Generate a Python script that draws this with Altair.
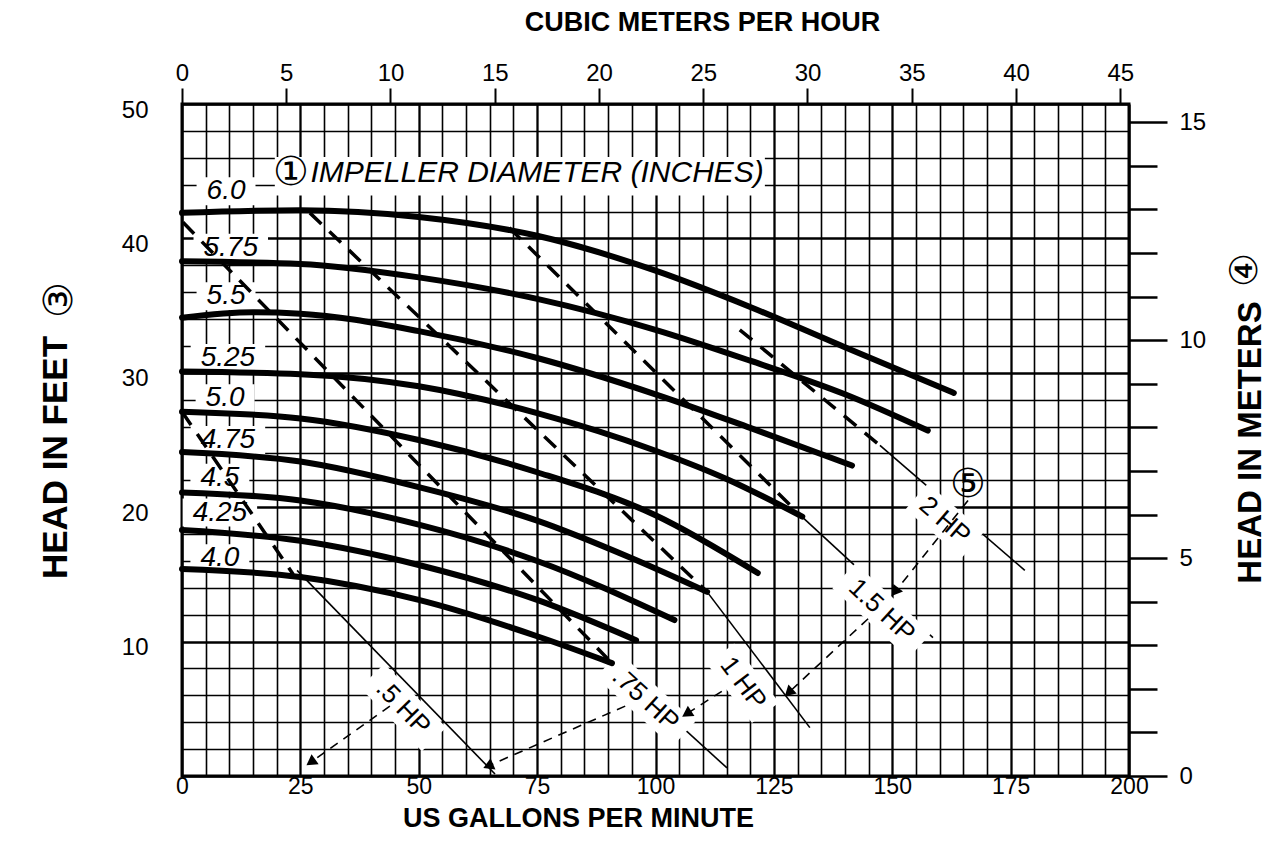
import math
import altair as alt
import pandas as pd

# ---------------- data ----------------
W, H = 947, 672
GPM_MAX = 200
FT_MAX = 50
M3H_MAX = 45.42
M_MAX = 15.42

GRID_GPM = list(range(0, 201, 5))
GRID_FT = list(range(0, 51, 2))
TOP_TICKS = list(range(0, 46, 5))
RIGHT_TICKS = list(range(0, 16))

IMPELLERS = ["6.0", "5.75", "5.5", "5.25", "5.0", "4.75", "4.5", "4.25", "4.0"]

GPM_600 = [0, 25, 50, 75, 100, 120, 140, 163]
FT_600 = [41.9, 42.1, 41.6, 40.2, 37.6, 34.9, 31.9, 28.5]
GPM_575 = [0, 25, 50, 75, 100, 120, 140, 157.5]
FT_575 = [38.3, 38.1, 37.1, 35.5, 33.2, 30.9, 28.4, 25.7]
GPM_550 = [0, 15, 25, 50, 75, 100, 120, 141.5]
FT_550 = [34.1, 34.5, 34.4, 33.1, 31.1, 28.4, 25.9, 23.1]
GPM_525 = [0, 25, 50, 75, 100, 115, 131]
FT_525 = [30.1, 29.9, 29.0, 27.0, 24.2, 22.1, 19.3]
GPM_500 = [0, 25, 50, 75, 100, 121.6]
FT_500 = [27.1, 26.6, 25.0, 22.6, 19.4, 15.1]
GPM_475 = [0, 25, 50, 75, 95, 110.9]
FT_475 = [24.1, 23.4, 21.5, 19.0, 16.2, 13.7]
GPM_450 = [0, 25, 50, 75, 104]
FT_450 = [21.1, 20.5, 18.7, 16.0, 11.6]
GPM_425 = [0, 25, 50, 75, 95.9]
FT_425 = [18.3, 17.5, 15.7, 13.1, 10.1]
GPM_400 = [0, 25, 50, 75, 90.8]
FT_400 = [15.4, 14.8, 13.1, 10.4, 8.4]

LABEL_GPM = [9.3, 10.3, 9.3, 9.7, 9.1, 9.7, 8.0, 8.0, 8.0]
LABEL_FT = [43.5, 39.3, 35.7, 31.1, 28.1, 25.0, 22.2, 19.6, 16.2]

# horsepower limits: thick dashed part (inside the curves) then thin solid part
HP_NAMES = [".5 HP", ".75 HP", "1 HP", "1.5 HP", "2 HP"]
DASH_GPM0 = [0.0, 0.2, 27.0, 69.1, 117.8]
DASH_FT0 = [27.1, 41.2, 41.9, 40.8, 33.2]
DASH_GPM1 = [23.5, 90.8, 110.9, 130.9, 147.4]
DASH_FT1 = [15.0, 8.4, 13.7, 19.3, 24.6]
HP_GPM0 = [24.3, 90.8, 110.9, 130.9, 147.4]
HP_FT0 = [15.3, 8.4, 13.7, 19.3, 24.6]
HP_GPM1 = [66.1, 115.1, 132.6, 158.6, 178.0]
HP_FT1 = [0.15, 0.6, 3.6, 10.3, 15.3]
HP_LAB_GPM = [46.7, 97.9, 118.5, 147.8, 161.1]
HP_LAB_FT = [5.1, 5.7, 6.9, 12.3, 19.0]

# callout arrows (tail -> head)
ARR_GPM0 = [166.0, 144.9, 114.0, 93.6, 43.9]
ARR_FT0 = [20.5, 11.7, 6.3, 5.2, 5.2]
ARR_GPM1 = [150.8, 128.4, 106.9, 65.0, 27.5]
ARR_FT1 = [13.8, 6.3, 4.7, 0.8, 1.1]

NOTE_TEXT = "IMPELLER DIAMETER (INCHES)"
NOTE_GPM = 75.0
NOTE_FT = 44.9
NOTE_BOX_GPM = [19.6, 123.1]
NOTE_BOX_FT = [43.2, 46.05]
CIRCLE_TEXT = ["\u2460", "\u2464"]
CIRCLE_GPM = [23.0, 166.0]
CIRCLE_FT = [44.9, 21.65]

# ---------------- tables ----------------
PXG = W / GPM_MAX
PXF = H / FT_MAX
FONT = "Liberation Sans"

curve_lists = [
    (GPM_600, FT_600), (GPM_575, FT_575), (GPM_550, FT_550), (GPM_525, FT_525),
    (GPM_500, FT_500), (GPM_475, FT_475), (GPM_450, FT_450), (GPM_425, FT_425),
    (GPM_400, FT_400),
]
rows = []
for name, (gs, fs) in zip(IMPELLERS, curve_lists):
    for i, (g, f) in enumerate(zip(gs, fs)):
        rows.append({"imp": name, "o": i, "gpm": g, "ft": f})
curves = pd.DataFrame(rows)

lab = pd.DataFrame({"txt": IMPELLERS, "gpm": LABEL_GPM, "ft": LABEL_FT})
lab_w = [28 * (0.556 * (len(t) - 1) + 0.278) + 20 for t in IMPELLERS]
lab_box = pd.DataFrame({
    "gpm": [g - w / 2 / PXG for g, w in zip(LABEL_GPM, lab_w)],
    "gpm2": [g + w / 2 / PXG for g, w in zip(LABEL_GPM, lab_w)],
    "ft": [f - 14 / PXF for f in LABEL_FT],
    "ft2": [f + 14 / PXF for f in LABEL_FT],
})
note_box = pd.DataFrame({"gpm": [NOTE_BOX_GPM[0]], "gpm2": [NOTE_BOX_GPM[1]],
                         "ft": [NOTE_BOX_FT[0]], "ft2": [NOTE_BOX_FT[1]]})
boxes = pd.concat([lab_box, note_box], ignore_index=True)

dash = pd.DataFrame({"gpm": DASH_GPM0, "ft": DASH_FT0, "gpm2": DASH_GPM1, "ft2": DASH_FT1})
hp = pd.DataFrame({"gpm": HP_GPM0, "ft": HP_FT0, "gpm2": HP_GPM1, "ft2": HP_FT1})

hp_ang = [math.degrees(math.atan2((f0 - f1) * PXF, (g1 - g0) * PXG))
          for g0, f0, g1, f1 in zip(HP_GPM0, HP_FT0, HP_GPM1, HP_FT1)]
hp_lab = pd.DataFrame({"txt": HP_NAMES, "gpm": HP_LAB_GPM, "ft": HP_LAB_FT, "ang": hp_ang})
hp_lab["wpx"] = [26 * 0.56 * len(t) + 16 for t in HP_NAMES]
hp_lab["size"] = hp_lab["wpx"] ** 2
hp_lab["path"] = [
    "M-1,-{h:.3f}L1,-{h:.3f}L1,{h:.3f}L-1,{h:.3f}Z".format(h=17 / (w / 2)) for w in hp_lab["wpx"]
]

arr = pd.DataFrame({"gpm": ARR_GPM0, "ft": ARR_FT0, "gpm2": ARR_GPM1, "ft2": ARR_FT1})
head_ang = [
    (math.degrees(math.atan2((g1 - g0) * PXG, (f1 - f0) * PXF)) + 360) % 360
    for g0, f0, g1, f1 in zip(ARR_GPM0, ARR_FT0, ARR_GPM1, ARR_FT1)
]
heads = pd.DataFrame({"gpm": ARR_GPM1, "ft": ARR_FT1, "ang": head_ang})

note = pd.DataFrame({"txt": [NOTE_TEXT], "gpm": [NOTE_GPM], "ft": [NOTE_FT]})
circles = pd.DataFrame({"txt": CIRCLE_TEXT, "gpm": CIRCLE_GPM, "ft": CIRCLE_FT})

# ---------------- encodings ----------------
xs = alt.Scale(domain=[0, GPM_MAX], nice=False, zero=False)
ys = alt.Scale(domain=[0, FT_MAX], nice=False, zero=False)

x_axis = alt.Axis(
    values=GRID_GPM, grid=True, gridColor="black", gridOpacity=1,
    gridWidth={"condition": {"test": "datum.value % 25 === 0", "value": 2.3}, "value": 1.6},
    labelExpr="datum.value % 25 === 0 ? datum.label : ''",
    ticks=False, domain=False, labelFont=FONT, labelFontSize=23, labelColor="black",
    labelPadding=-1, labelFlush=False, labelOverlap=False,
    title="US GALLONS PER MINUTE", titleFont=FONT, titleFontSize=27, titleFontWeight="bold",
    titleColor="black", titleX=396, titleY=42, titleBaseline="middle",
)
y_axis = alt.Axis(
    values=GRID_FT, grid=True, gridColor="black", gridOpacity=1,
    gridWidth={"condition": {"test": "datum.value % 10 === 0", "value": 2.6}, "value": 1.6},
    labelExpr="datum.value % 10 === 0 && datum.value > 0 ? datum.label : ''",
    ticks=False, domain=False, labelFont=FONT, labelFontSize=24, labelColor="black",
    labelPadding=34, labelOffset=6, labelFlush=False, labelOverlap=False,
    title="HEAD IN FEET", titleFont=FONT, titleFontSize=35, titleFontWeight="bold",
    titleColor="black", titleAngle=270, titleX=-127, titleY=353, titleBaseline="middle",
)

X = alt.X("gpm:Q", scale=xs, axis=x_axis)
Y = alt.Y("ft:Q", scale=ys, axis=y_axis)
X2 = alt.X2("gpm2:Q")
Y2 = alt.Y2("ft2:Q")

box_layer = alt.Chart(boxes).mark_rect(color="white", opacity=1).encode(x=X, x2=X2, y=Y, y2=Y2)

dash_layer = alt.Chart(dash).mark_rule(color="black", strokeWidth=3.5, strokeDash=[16, 11]).encode(
    x=X, y=Y, x2=X2, y2=Y2)

hp_layer = alt.Chart(hp).mark_rule(color="black", strokeWidth=1.6).encode(x=X, y=Y, x2=X2, y2=Y2)

hp_box = alt.Chart(hp_lab).mark_point(filled=True, fill="white", opacity=1, strokeWidth=0).encode(
    x=X, y=Y,
    shape=alt.Shape("path:N", scale=None), size=alt.Size("size:Q", scale=None),
    angle=alt.Angle("ang:Q", scale=None))

curve_layer = alt.Chart(curves).mark_line(color="black", strokeWidth=6, strokeCap="round",
                                          interpolate="monotone").encode(
    x=X, y=Y, detail="imp:N", order="o:Q")

arr_layer = alt.Chart(arr).mark_rule(color="black", strokeWidth=1.6, strokeDash=[9, 7]).encode(
    x=X, y=Y, x2=X2, y2=Y2)

head_layer = alt.Chart(heads).mark_point(shape="triangle", filled=True, color="black", size=150,
                                         opacity=1).encode(
    x=X, y=Y, angle=alt.Angle("ang:Q", scale=None))

lab_text = alt.Chart(lab).mark_text(font=FONT, fontSize=28, fontStyle="italic", color="black").encode(
    x=X, y=Y, text="txt:N")

hp_text = alt.Chart(hp_lab).mark_text(font=FONT, fontSize=26, color="black").encode(
    x=X, y=Y, text="txt:N", angle=alt.Angle("ang:Q", scale=None))

note_text = alt.Chart(note).mark_text(font=FONT, fontSize=30, fontStyle="italic", color="black").encode(
    x=X, y=Y, text="txt:N")

circle_text = alt.Chart(circles).mark_text(font="DejaVu Sans", fontSize=40, color="black").encode(
    x=X, y=Y, text="txt:N")

side_marks = alt.Chart(pd.DataFrame({"txt": ["\u2462"]})).mark_text(
    font="DejaVu Sans", fontSize=40, color="black", angle=270).encode(
    x=alt.value(-122), y=alt.value(196), text="txt:N")
side_marks_r = alt.Chart(pd.DataFrame({"txt": ["\u2463"]})).mark_text(
    font="DejaVu Sans", fontSize=38, color="black", angle=270).encode(
    x=alt.value(1064), y=alt.value(166), text="txt:N")

main = alt.layer(box_layer, dash_layer, hp_layer, hp_box, curve_layer,
                 arr_layer, head_layer, lab_text, hp_text, note_text, circle_text,
                 side_marks, side_marks_r)

top = alt.Chart(pd.DataFrame({"m3h": TOP_TICKS})).mark_point(opacity=0).encode(
    x=alt.X("m3h:Q", scale=alt.Scale(domain=[0, M3H_MAX], nice=False, zero=False),
            axis=alt.Axis(orient="top", values=TOP_TICKS, ticks=True, tickSize=16, tickWidth=2,
                          tickColor="black", domain=False, grid=False, labelFont=FONT,
                          labelFontSize=24, labelColor="black", labelPadding=3, labelFlush=False,
                          labelOverlap=False,
                          title="CUBIC METERS PER HOUR", titleFont=FONT, titleFontSize=27,
                          titleFontWeight="bold", titleColor="black", titleX=520, titleY=-82,
                          titleBaseline="middle")))

right = alt.Chart(pd.DataFrame({"m": RIGHT_TICKS})).mark_point(opacity=0).encode(
    y=alt.Y("m:Q", scale=alt.Scale(domain=[0, M_MAX], nice=False, zero=False),
            axis=alt.Axis(orient="right", values=RIGHT_TICKS, ticks=True,
                          tickSize={"condition": {"test": "datum.value % 5 === 0", "value": 38}, "value": 28},
                          tickWidth=2.5, tickColor="black", domain=False, grid=False,
                          labelExpr="datum.value % 5 === 0 ? datum.label : ''",
                          labelFont=FONT, labelFontSize=24, labelColor="black", labelPadding=12,
                          labelFlush=False, labelOverlap=False,
                          title="HEAD IN METERS", titleFont=FONT, titleFontSize=33,
                          titleFontWeight="bold", titleColor="black", titleAngle=270,
                          titleX=121, titleY=338, titleBaseline="middle")))

chart = alt.layer(main, top, right).resolve_scale(x="independent", y="independent").properties(
    width=W, height=H,
    padding={"left": 174, "top": 96, "right": 141, "bottom": 72},
    autosize=alt.AutoSizeParams(type="none"),
    background="white",
).configure_view(stroke="black", strokeWidth=3)

chart.save("out.html", embed_options={"renderer": "svg", "actions": False})
